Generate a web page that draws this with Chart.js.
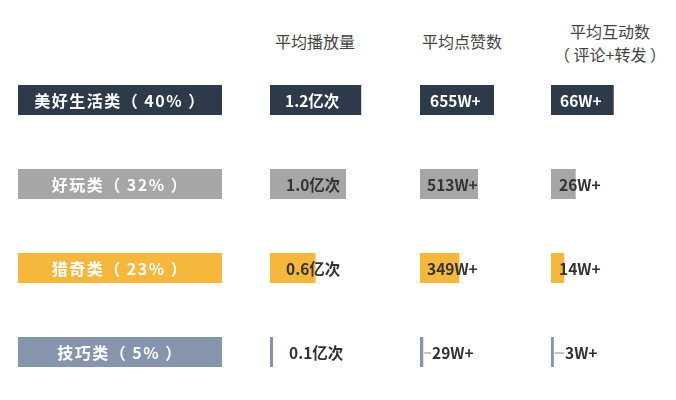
<!DOCTYPE html>
<html><head><meta charset="utf-8">
<script src="https://cdn.jsdelivr.net/npm/chart.js@4.4.0/dist/chart.umd.min.js"></script>
<style>
body{margin:0;width:676px;height:400px;background:#fff;position:relative;overflow:hidden;font-family:"Noto Sans CJK SC",sans-serif;}
canvas{position:absolute;}
.h{position:absolute;color:#444;font-size:16px;text-align:center;width:160px;line-height:23px;}
</style></head><body>
<div class="h" style="left:235px;top:30px">平均播放量</div>
<div class="h" style="left:382px;top:30px">平均点赞数</div>
<div class="h" style="left:530px;top:20px">平均互动数<br>（ 评论+转发 ）</div>
<canvas id="c0" style="left:18px;top:58px;width:204px;height:336px"></canvas>
<canvas id="c1" style="left:270px;top:58px;width:140px;height:336px"></canvas>
<canvas id="c2" style="left:420px;top:58px;width:120px;height:336px"></canvas>
<canvas id="c3" style="left:551px;top:58px;width:110px;height:336px"></canvas>
<script>
const categories=["美好生活类（ 40% ）","好玩类（ 32% ）","猎奇类（ 23% ）","技巧类（ 5% ）"];
const playValues=[1.2,1.0,0.6,0.04];
const playLabels=["1.2亿次","1.0亿次","0.6亿次","0.1亿次"];
const likeValues=[655,513,349,29];
const likeLabels=["655W+","513W+","349W+","29W+"];
const interValues=[66,26,14,3];
const interLabels=["66W+","26W+","14W+","3W+"];
const colors=["#2c3a4a","#a6a6a6","#f5b83d","#8595ae"];
const textColors=["#ffffff","#333333","#333333","#333333"];

function make(id,values,max,labels,opt){
  new Chart(document.getElementById(id),{
    type:'bar',
    data:{labels:categories,datasets:[{data:values,backgroundColor:colors,barPercentage:1,categoryPercentage:30/84,borderWidth:0}]},
    options:{indexAxis:'y',responsive:false,animation:false,maintainAspectRatio:false,
      layout:{padding:0},
      plugins:{legend:{display:false},tooltip:{enabled:false}},
      scales:{x:{display:false,min:0,max:max},y:{display:false}}},
    plugins:[{id:'lbl',afterDatasetsDraw(ch){
      const ctx=ch.ctx,meta=ch.getDatasetMeta(0);
      ctx.save();ctx.textBaseline='middle';
      meta.data.forEach((b,i)=>{
        const y=b.y+1;
        if(opt.center){ctx.font='bold 16px "Noto Sans CJK SC"';ctx.letterSpacing='1.5px';ctx.fillStyle='#fff';ctx.textAlign='center';ctx.fillText(labels[i],ch.width/2,y);return;}
        ctx.font='bold 15.5px "Noto Sans CJK SC"';
        ctx.fillStyle=textColors[i];ctx.textAlign='left';
        let x=b.base+opt.off[i];
        if(opt.dash&&i===3){ctx.strokeStyle='#888';ctx.lineWidth=1;ctx.beginPath();ctx.moveTo(b.x+1,y);ctx.lineTo(x-1,y);ctx.stroke();}
        ctx.fillText(labels[i],x,y);
      });
      ctx.restore();}}]
  });
}
['c0','c1','c2','c3'].forEach(id=>{const c=document.getElementById(id);c.width=parseInt(c.style.width);c.height=parseInt(c.style.height);});
make('c0',[1,1,1,1],1,categories,{center:true});
make('c1',playValues,140/76,playLabels,{off:[15,16,16,19]});
make('c2',likeValues,120/0.113,likeLabels,{off:[10,7,7,12],dash:true});
make('c3',interValues,110/0.95,interLabels,{off:[9,8,8,14],dash:true});
</script></body></html>
